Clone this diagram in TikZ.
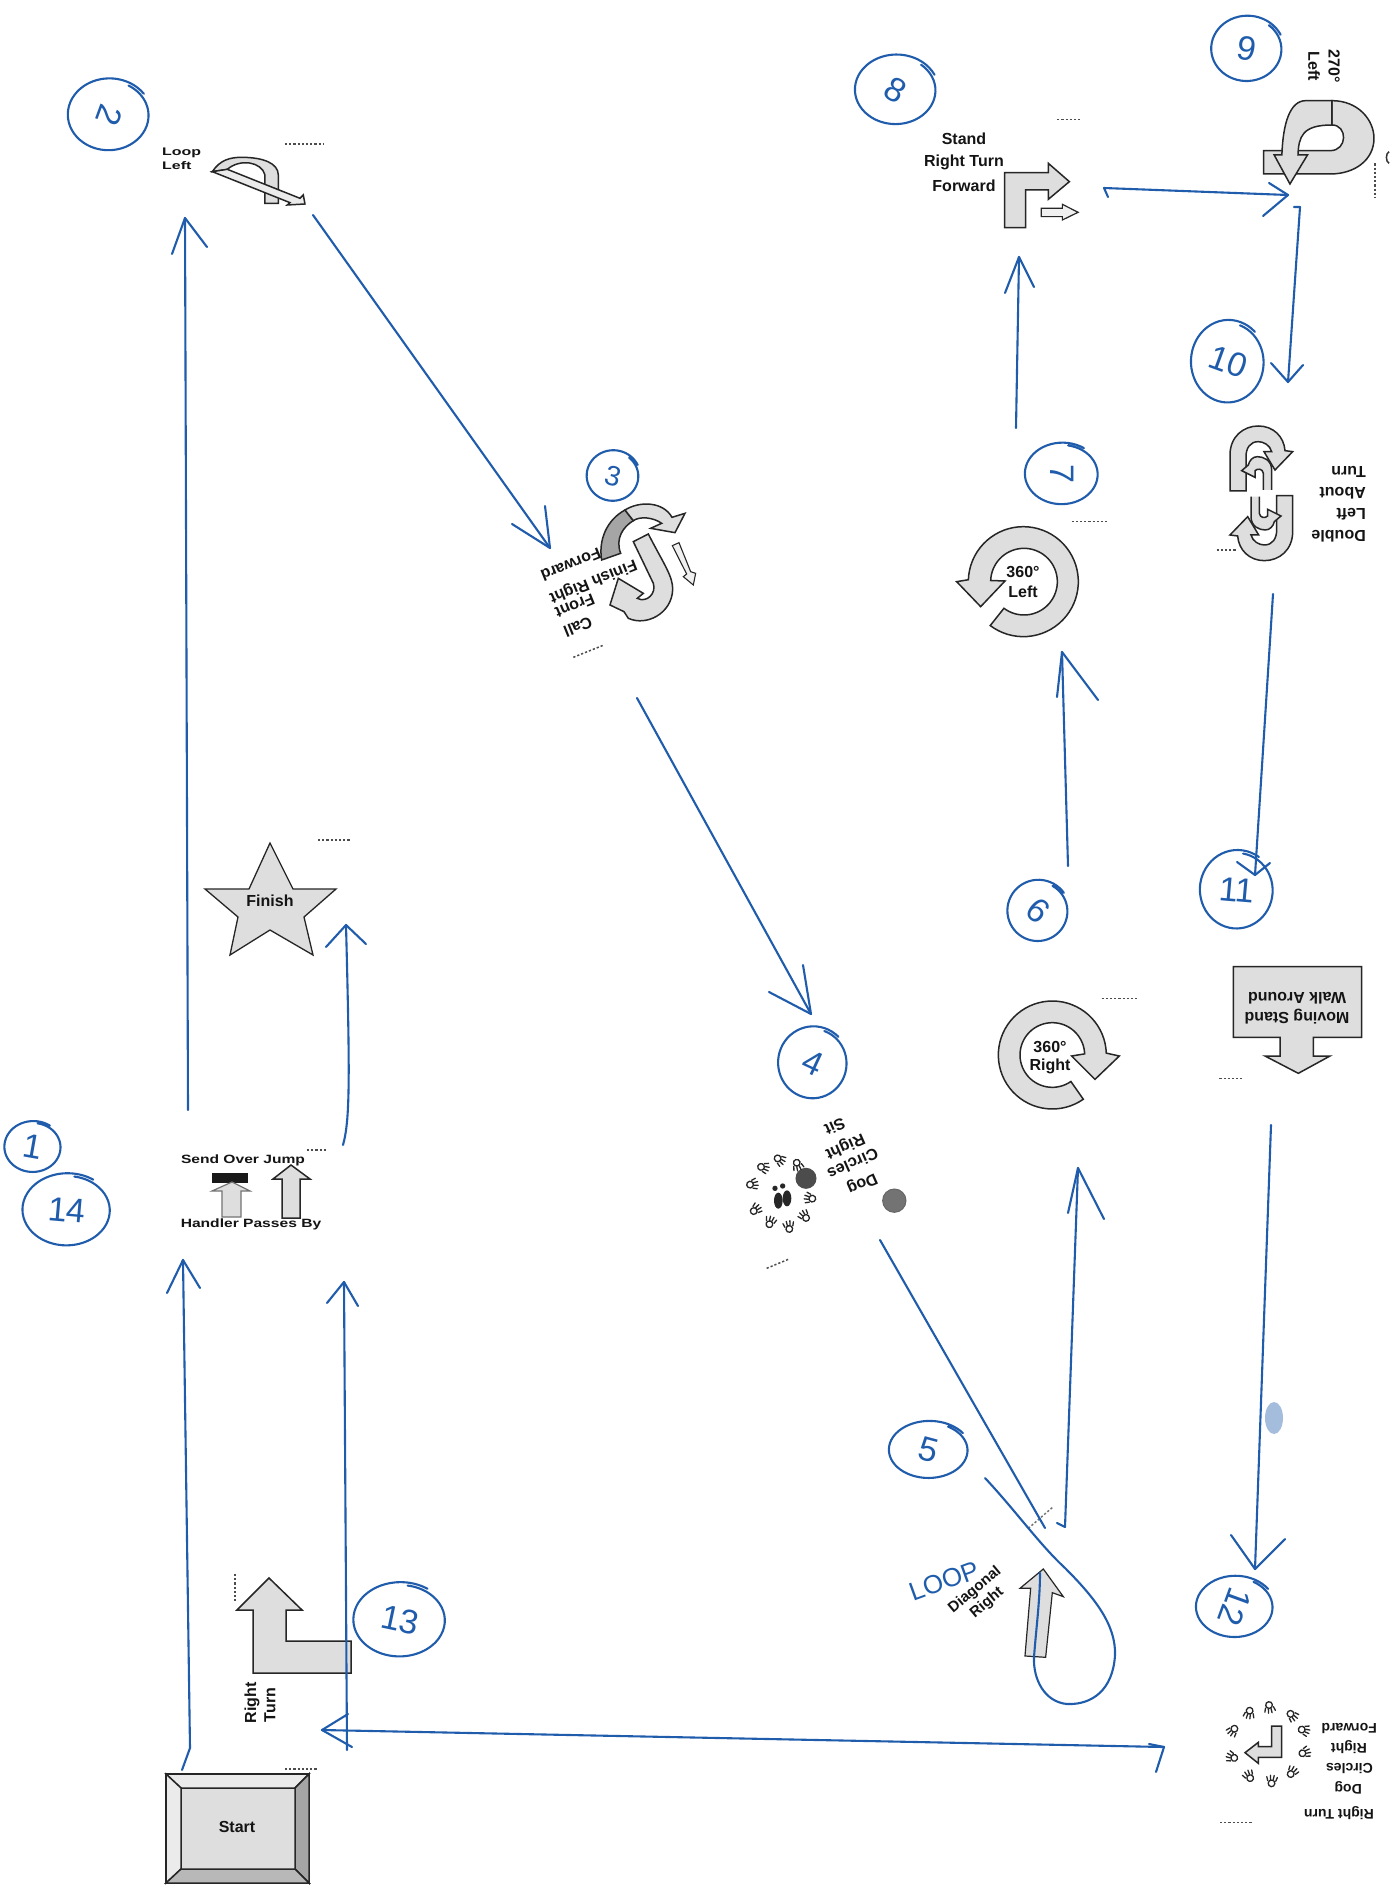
\documentclass[tikz,border=0pt]{standalone}
\usepackage{fontspec}
\setmainfont{Liberation Sans}
\newfontfamily\handfont{Liberation Sans}
\definecolor{ink}{RGB}{32,92,172}
\definecolor{sym}{RGB}{222,222,222}
\definecolor{symdark}{RGB}{165,165,165}
\definecolor{txt}{RGB}{20,20,20}
\tikzset{
  inkline/.style={draw=ink,line width=2.1pt,line cap=round,line join=round},
  symbol/.style={draw=black!85,line width=1.5pt,fill=sym,line join=miter},
  thinsym/.style={draw=black!55,line width=1.2pt,fill=sym},
  lbl/.style={font=\bfseries\fontsize{16}{18}\selectfont,text=txt,inner sep=0pt,align=center},
  lblsmall/.style={font=\bfseries\fontsize{14}{16}\selectfont,text=txt,inner sep=0pt,align=center},
  numeral/.style={font=\handfont\fontsize{34}{36}\selectfont,text=ink,inner sep=0pt},
  specks/.style={draw=black!70,line width=1.5pt,dash pattern=on 2.2pt off 2pt},
  pawline/.style={draw=black!85,line width=1.3pt,line cap=round}
}
% hand-drawn arrow: name, start, tip, left barb, right barb
\newcommand\handarrow[5]{%
  \coordinate (#1s) at (#2);\coordinate (#1t) at (#3);
  \coordinate (#1l) at (#4);\coordinate (#1r) at (#5);
  \draw[inkline] (#1s) -- (#1t);
  \draw[inkline] (#1l) -- (#1t) -- (#1r);}
% hand-drawn ring: centre x,y, rx, ry, start angle
\newcommand\handring[5]{%
  \draw[inkline] plot[domain=0:385,samples=60,smooth]
    ({#1+#3*(1+0.09*\x/385)*cos(\x+#5)},{#2+#4*(1+0.09*\x/385)*sin(\x+#5)});}
\newcommand\pawmark[3]{%
  \begin{scope}[shift={(#1,#2)},rotate=#3]
    \draw[pawline,fill=white] (0,5) circle (10);
    \draw[pawline] (-12,-2) -- (-16,-14) (-4,-6) -- (-5,-19) (4,-6) -- (6,-19) (12,-2) -- (16,-14);
  \end{scope}}
\newcommand\dlhalf{%
  \draw[symbol] (150,573) -- (150,465) .. controls (150,410) and (190,378) .. (235,378) .. controls (280,378) and (312,410) .. (315,452) -- (338,455) -- (285,510) -- (252,455) -- (275,455) .. controls (270,435) and (250,425) .. (235,425) .. controls (210,425) and (198,445) .. (198,470) -- (198,573) -- cycle;
  \draw[symbol] (275,570) -- (275,510) .. controls (275,480) and (250,470) .. (232,470) .. controls (218,470) and (208,482) .. (205,495) -- (185,512) -- (225,532) -- (225,512) .. controls (232,505) and (248,505) .. (250,520) -- (250,570);}
\begin{document}
\begin{tikzpicture}[x=1pt,y=-1pt]
\useasboundingbox (0,0) rectangle (1389,1892);
\fill[white] (0,0) rectangle (1389,1892);

%% ---- Start
\filldraw[symbol,fill=sym] (166,1774) rectangle (309,1883);
\filldraw[symbol,fill=black!8] (166,1774) -- (309,1774) -- (295,1788) -- (181,1788) -- cycle;
\filldraw[symbol,fill=black!8] (166,1774) -- (181,1788) -- (181,1869) -- (166,1883) -- cycle;
\filldraw[symbol,fill=symdark] (309,1774) -- (295,1788) -- (295,1869) -- (309,1883) -- cycle;
\filldraw[symbol,fill=black!28] (166,1883) -- (181,1869) -- (295,1869) -- (309,1883) -- cycle;
\node[lbl] (start) at (237,1827) {Start};
\draw[specks] (285,1769) -- (317,1769);

%% ---- Right Turn (13)
\draw[symbol] (351,1673) -- (253,1673) -- (253,1610) -- (237,1610) -- (269,1578) -- (302,1610) -- (286,1610) -- (286,1641) -- (351,1641) -- cycle;
\node[lbl,rotate=90] (rt1) at (252,1703) {Right};
\node[lbl,rotate=90] (rt2) at (270,1705) {Turn};
\draw[specks] (235,1574) -- (235,1602);

%% ---- Send over jump
\node[lbl,font=\bfseries\fontsize{12}{14}\selectfont] (sj) at (243,1160) {\scalebox{1.3}[1]{Send Over Jump}};
\node[lbl,font=\bfseries\fontsize{12}{14}\selectfont] (hp) at (251,1224) {\scalebox{1.3}[1]{Handler Passes By}};
\fill[black!90] (212,1173) rectangle (248,1183);
\draw[thinsym] (222,1217) -- (222,1191) -- (212,1191) -- (232,1182) -- (250,1191) -- (241,1191) -- (241,1217) -- cycle;
\draw[symbol] (282,1218) -- (282,1179) -- (273,1179) -- (291,1165) -- (310,1179) -- (300,1179) -- (300,1218) -- cycle;
\draw[specks] (307,1150) -- (327,1150);

%% ---- Finish
\draw[symbol,line width=1.3pt] (270,843) -- (293,889) -- (336,889) -- (304,917) -- (313,955) -- (270,930) -- (230,955) -- (238,917) -- (205,889) -- (249,889) -- cycle;
\node[lbl] (fin) at (270,901) {Finish};
\draw[specks] (318,840) -- (350,840);

%% ---- Loop Left
\node[lbl,font=\bfseries\fontsize{11}{13}\selectfont,anchor=west] (ll1) at (162,153) {\scalebox{1.45}[1]{Loop}};
\node[lbl,font=\bfseries\fontsize{11}{13}\selectfont,anchor=west] (ll2) at (162,166) {\scalebox{1.45}[1]{Left}};
\begin{scope}[shift={(50,50)},scale=0.3333]
  \draw[symbol] (645,460) -- (645,375) .. controls (635,335) and (570,325) .. (532,358) -- (487,365) .. controls (510,330) and (540,322) .. (575,322) .. controls (640,322) and (685,340) .. (685,375) -- (685,460) -- cycle;
  \draw[symbol,fill=black!8] (487,365) -- (720,458) -- (712,465) -- (765,462) -- (760,435) -- (750,445) -- (532,358) -- cycle;
  \draw[specks] (705,282) -- (820,282);
\end{scope}

%% ---- Call Front
\begin{scope}[shift={(500,430)},scale=0.3333]
  \draw[symbol,fill=symdark] (305,390) .. controls (295,330) and (320,270) .. (375,240) -- (400,272) .. controls (370,290) and (345,325) .. (362,370) -- cycle;
  \draw[symbol] (375,240) .. controls (420,212) and (490,215) .. (516,262) -- (555,250) -- (525,308) -- (452,295) -- (485,280) .. controls (460,262) and (420,258) .. (400,272) -- cycle;
  \draw[symbol] (445,312) .. controls (490,400) and (520,440) .. (518,480) .. controls (515,550) and (440,590) .. (385,565) -- (372,545) -- (330,525) -- (355,445) -- (430,490) -- (412,505) .. controls (440,520) and (470,490) .. (460,460) -- (400,335) -- cycle;
  \draw[symbol,line width=1.1pt,fill=black!6] (517,347) -- (537,338) -- (572,425) -- (587,430) -- (580,465) -- (550,440) -- (560,432) -- cycle;
  \draw[specks] (220,682) -- (312,645);
\end{scope}
\node[lbl,rotate=202] (cf1) at (571,565) {Forward};
\node[lbl,rotate=202] (cf2) at (593,581) {Finish Right};
\node[lbl,rotate=202] (cf3) at (575,606) {Front};
\node[lbl,rotate=202] (cf4) at (578,627) {Call};

%% ---- Dog Circles Right Sit
\begin{scope}[shift={(720,1030)},scale=0.3333]
  \filldraw[draw=black!60,fill=black!55,line width=1pt] (523,512) circle (35);
  \filldraw[draw=black!70,fill=black!70,line width=1pt] (258,445) circle (30);
  \pawmark{232}{403}{200}\pawmark{177}{388}{235}\pawmark{128}{412}{255}
  \pawmark{95}{463}{280}\pawmark{105}{540}{310}\pawmark{150}{578}{340}
  \pawmark{207}{592}{10}\pawmark{255}{560}{40}\pawmark{272}{505}{80}
  \fill[black!85] (175,512) ellipse (13 and 24);
  \fill[black!85] (201,505) ellipse (13 and 24);
  \fill[black!85] (165,475) circle (8);
  \fill[black!85] (188,468) circle (8);
  \draw[specks] (140,715) -- (205,688);
\end{scope}
\node[lbl,rotate=204] (dc1) at (862,1183) {Dog};
\node[lbl,rotate=204] (dc2) at (853,1164) {Circles};
\node[lbl,rotate=204] (dc3) at (845,1146) {Right};
\node[lbl,rotate=204] (dc4) at (835,1127) {Sit};

%% ---- Diagonal Right
\begin{scope}[shift={(880,1420)},scale=0.3333]
  \draw[symbol,line width=1.2pt] (490,447) -- (550,530) -- (517,518) -- (497,712) -- (435,708) -- (452,505) -- (420,505) -- cycle;
  \draw[specks,draw=black!55] (445,325) -- (520,260);
\end{scope}
\node[lbl,font=\bfseries\fontsize{15}{17}\selectfont,rotate=40] (dr1) at (975,1590) {Diagonal};
\node[lbl,font=\bfseries\fontsize{15}{17}\selectfont,rotate=40] (dr2) at (987,1603) {Right};
\node[font=\handfont\fontsize{26}{28}\selectfont,text=ink,rotate=20,inner sep=0pt] (loop) at (944,1581) {LOOP};

%% ---- 360 Right
\begin{scope}[shift={(980,980)},scale=0.3333]
  \draw[symbol] plot[domain=55:358,samples=60] ({217+162*cos(\x)},{225+162*sin(\x)}) -- (418,228) -- (345,298) -- (275,228) -- plot[domain=358:55,samples=60] ({217+97*cos(\x)},{225+97*sin(\x)}) -- cycle;
  \draw[specks] (365,55) -- (470,55);
\end{scope}
\node[lbl] (r3a) at (1050,1047) {360°};
\node[lbl] (r3b) at (1050,1066) {Right};

%% ---- 360 Left
\begin{scope}[shift={(940,500)},scale=0.3333]
  \draw[symbol] plot[domain=127:-178,samples=60] ({250+165*cos(\x)},{245+165*sin(\x)}) -- (50,245) -- (122,320) -- (195,243) -- plot[domain=-178:127,samples=60] ({252+100*cos(\x)},{245+100*sin(\x)}) -- cycle;
  \draw[specks] (395,65) -- (500,65);
\end{scope}
\node[lbl] (l3a) at (1023,572) {360°};
\node[lbl] (l3b) at (1023,592) {Left};

%% ---- Stand Right Turn Forward + 270 Left
\node[lbl] (st1) at (964,139) {Stand};
\node[lbl] (st2) at (964,162) {Right Turn};
\node[lbl] (st3) at (964,186) {Forward};
\node[lbl,rotate=-90] (t2a) at (1334,66) {270°};
\node[lbl,rotate=-90] (t2b) at (1314,66) {Left};
\begin{scope}[shift={(840,0)},xscale=0.35014,yscale=0.3333]
  \draw[symbol] (470,518) -- (595,518) -- (595,490) -- (655,545) -- (595,598) -- (595,570) -- (530,570) -- (530,683) -- (470,683) -- cycle;
  \draw[symbol,line width=1.2pt,fill=black!6] (575,625) -- (635,625) -- (635,613) -- (680,637) -- (635,660) -- (635,650) -- (575,650) -- cycle;
  \draw[specks] (620,358) -- (688,358);
  \draw[symbol] (1210,452) -- (1400,452) .. controls (1450,452) and (1450,375) .. (1405,375) -- (1405,302) .. controls (1480,302) and (1525,360) .. (1525,415) .. controls (1525,480) and (1470,522) .. (1400,522) -- (1210,522) -- cycle;
  \draw[symbol] (1405,302) -- (1330,302) .. controls (1285,302) and (1265,370) .. (1262,465) -- (1240,465) -- (1285,552) -- (1335,465) -- (1308,465) .. controls (1310,410) and (1320,375) .. (1405,375) -- cycle;
  \draw[specks] (1528,490) -- (1528,595);
  \draw[black!80,line width=1.5pt] (1568,455) .. controls (1558,460) and (1558,485) .. (1568,490);
\end{scope}

%% ---- Double Left About Turn
\begin{scope}[shift={(1180,300)},scale=0.3333]
  \dlhalf
  \begin{scope}[shift={(488,1160)},xscale=-1,yscale=-1]
    \dlhalf
  \end{scope}
  \draw[specks] (110,750) -- (172,750);
\end{scope}
\node[lbl,rotate=180,anchor=west] (da1) at (1366,536) {Double};
\node[lbl,rotate=180,anchor=west] (da2) at (1366,514) {Left};
\node[lbl,rotate=180,anchor=west] (da3) at (1366,493) {About};
\node[lbl,rotate=180,anchor=west] (da4) at (1366,472) {Turn};

%% ---- Moving Stand
\begin{scope}[shift={(1170,940)},scale=0.3333]
  \draw[symbol] (190,80) -- (575,80) -- (575,292) -- (430,292) -- (430,348) -- (480,348) -- (385,400) -- (285,348) -- (330,348) -- (330,292) -- (190,292) -- cycle;
  \draw[specks] (148,415) -- (215,415);
\end{scope}
\node[lbl,rotate=180] (ms1) at (1297,998) {Walk Around};
\node[lbl,rotate=180] (ms2) at (1297,1017) {Moving Stand};

%% ---- Right Turn Dog Circles Right Forward
\begin{scope}[shift={(1190,1680)},scale=0.3333]
  \draw[symbol] (275,138) -- (245,138) -- (245,200) -- (205,200) -- (205,187) -- (165,218) -- (205,250) -- (205,232) -- (275,232) -- cycle;
  \pawmark{130}{150}{140}\pawmark{178}{97}{170}\pawmark{238}{80}{190}
  \pawmark{305}{105}{225}\pawmark{340}{150}{255}\pawmark{342}{218}{290}
  \pawmark{305}{278}{325}\pawmark{245}{305}{355}\pawmark{178}{290}{30}
  \pawmark{128}{232}{70}
  \draw[specks] (90,428) -- (185,428);
\end{scope}
\node[lblsmall,rotate=180,anchor=west] (dr4) at (1377,1728) {Forward};
\node[lblsmall,rotate=180,anchor=west] (dr5) at (1367,1747) {Right};
\node[lblsmall,rotate=180,anchor=west] (dr6) at (1373,1768) {Circles};
\node[lblsmall,rotate=180,anchor=west] (dr7) at (1362,1788) {Dog};
\node[lblsmall,rotate=180,anchor=west] (dr8) at (1374,1813) {Right Turn};

%% ---- Hand-drawn route
\handarrow{a}{188,1110}{185,218}{172,254}{207,247}
\handarrow{b}{313,215}{550,548}{512,524}{545,506}
\handarrow{c}{637,698}{811,1014}{769,992}{803,965}
\coordinate (ds) at (880,1240);\coordinate (dt) at (1045,1528);
\draw[inkline] (ds) -- (dt);
\coordinate (ls) at (985,1478);\coordinate (lt) at (1040,1573);
\draw[inkline] (ls) .. controls (1015,1510) and (1040,1545) .. (1065,1568) .. controls (1095,1598) and (1116,1625) .. (1115,1655) .. controls (1113,1690) and (1092,1705) .. (1067,1704) .. controls (1045,1702) and (1033,1680) .. (1034,1657) .. controls (1036,1630) and (1040,1600) .. (lt);
\coordinate (es) at (1057,1523);\coordinate (em) at (1065,1527);
\coordinate (et) at (1078,1168);\coordinate (el) at (1068,1213);\coordinate (er) at (1104,1219);
\draw[inkline] (es) -- (em) -- (et);
\draw[inkline] (el) -- (et) -- (er);
\handarrow{f}{1068,866}{1062,652}{1057,697}{1098,700}
\handarrow{g}{1016,428}{1019,257}{1005,293}{1034,287}
\coordinate (hs) at (1108,197);\coordinate (hm) at (1104,188);
\coordinate (ht) at (1288,195);\coordinate (hl) at (1269,183);\coordinate (hr) at (1263,216);
\draw[inkline] (hs) -- (hm) -- (ht);
\draw[inkline] (hl) -- (ht) -- (hr);
\coordinate (is) at (1294,207);\coordinate (im) at (1300,207);
\coordinate (it) at (1288,382);\coordinate (il) at (1271,363);\coordinate (ir) at (1303,365);
\draw[inkline] (is) -- (im) -- (it);
\draw[inkline] (il) -- (it) -- (ir);
\handarrow{j}{1273,594}{1255,875}{1237,862}{1270,863}
\handarrow{k}{1271,1125}{1255,1569}{1231,1535}{1285,1539}
\fill[ink,opacity=0.4] (1274,1418) ellipse (9 and 16);
% return line with its open head at the Dog Circles end and the triangular head at Right Turn
\coordinate (ms) at (1164,1747);\coordinate (mt) at (322,1730);
\coordinate (mu) at (348,1714);\coordinate (md) at (352,1747);
\coordinate (mx) at (1149,1744);\coordinate (my) at (1156,1772);
\draw[inkline] (ms) -- (mt);
\draw[inkline] (mu) -- (mt) -- (md);
\draw[inkline] (mx) -- (ms) -- (my);
\handarrow{n}{347,1750}{344,1282}{327,1303}{358,1306}
\coordinate (ps) at (182,1770);\coordinate (pm) at (190,1748);
\coordinate (pt) at (183,1260);\coordinate (pl) at (167,1293);\coordinate (pr) at (200,1288);
\draw[inkline] (ps) -- (pm) -- (pt);
\draw[inkline] (pl) -- (pt) -- (pr);
\coordinate (qs) at (343,1145);
\coordinate (qt) at (346,925);\coordinate (ql) at (326,947);\coordinate (qr) at (366,944);
\draw[inkline] (qs) .. controls (350,1120) and (350,1080) .. (qt);
\draw[inkline] (ql) -- (qt) -- (qr);

%% ---- Hand-written step numbers
\handring{33}{1147}{27}{24}{-80}   \node[numeral,rotate=-10] (n1) at (33,1147) {1};
\handring{67}{1210}{42}{34}{-80}   \node[numeral,rotate=-5] (n14) at (67,1210) {14};
\handring{109}{115}{39}{34}{-60}   \node[numeral,rotate=-110] (n2) at (109,115) {2};
\handring{613}{476}{25}{24}{-50}   \node[numeral,rotate=-15,font=\handfont\fontsize{28}{30}\selectfont] (n3) at (613,476) {3};
\handring{813}{1063}{33}{34}{-70}  \node[numeral,rotate=-25] (n4) at (813,1063) {4};
\handring{929}{1450}{38}{27}{-60}  \node[numeral,rotate=-15] (n5) at (929,1450) {5};
\handring{1038}{911}{29}{29}{-60}  \node[numeral,rotate=-40] (n6) at (1038,911) {6};
\handring{1062}{474}{35}{29}{-80}  \node[numeral,rotate=-90] (n7) at (1062,474) {7};
\handring{896}{90}{39}{33}{-50}    \node[numeral,rotate=-30] (n8) at (896,90) {8};
\handring{1247}{49}{34}{31}{-50}   \node[numeral,rotate=-10] (n9) at (1247,49) {9};
\handring{1228}{362}{35}{39}{-70}  \node[numeral,rotate=-20] (n10) at (1228,362) {10};
\handring{1237}{890}{35}{37}{-80}  \node[numeral,rotate=-5] (n11) at (1237,890) {11};
\handring{1235}{1607}{37}{29}{-60} \node[numeral,rotate=-110] (n12) at (1235,1607) {12};
\handring{400}{1620}{44}{35}{-80}  \node[numeral,rotate=-12] (n13) at (400,1620) {13};
\end{tikzpicture}
\end{document}
